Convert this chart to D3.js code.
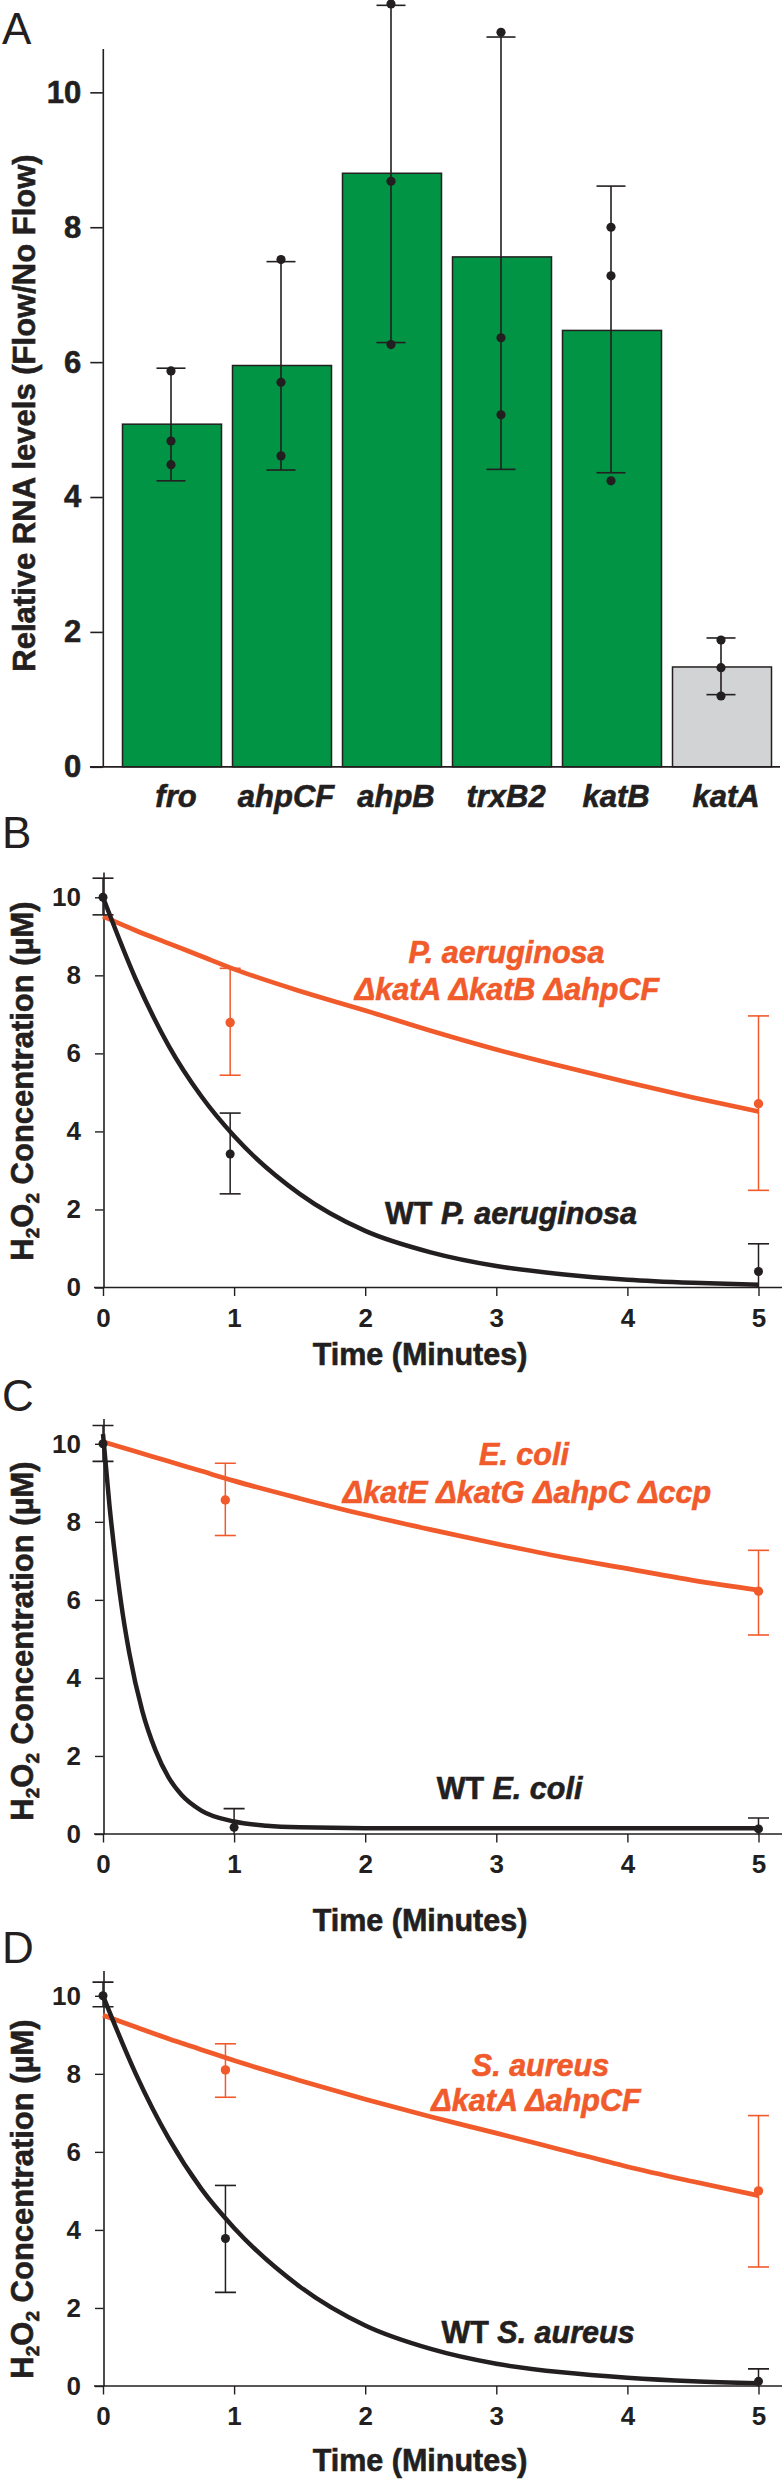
<!DOCTYPE html>
<html><head><meta charset="utf-8">
<script src="https://cdn.jsdelivr.net/npm/d3@7"></script>
<style>
body{margin:0;background:#fff}
svg text{font-family:"Liberation Sans",Arial,sans-serif;fill:#231f20}
svg text.heavy{stroke:#231f20;stroke-width:0.6px}
svg text.heavy.orange{fill:#f15a2b;stroke:#f15a2b}
</style>
</head><body>
<script>
// ---------------- Panel A data ----------------
const genes = ["fro","ahpCF","ahpB","trxB2","katB","katA"];
const rnaMean = [5.08,5.95,8.80,7.56,6.47,1.48];
const rnaLow  = [4.24,4.40,6.29,4.41,4.36,1.07];
const rnaHigh = [5.91,7.49,11.29,10.82,8.61,1.91];
const rnaReplicates = [[5.87,4.83,4.48],[7.52,5.70,4.61],[11.31,8.68,6.26],[10.89,6.36,5.22],[8.00,7.28,4.24],[1.88,1.47,1.05]];
const controlGene = "katA";
const rnaTicks = [0,2,4,6,8,10];
const rnaTitle = "Relative RNA levels (Flow/No Flow)";

// ---------------- Panels B–D shared ----------------
const timeTicks = [0,1,2,3,4,5];
const concTicks = [0,2,4,6,8,10];
const fitTime = [0,0.25,0.5,0.75,1,1.5,2,2.5,3,3.5,4,4.5,5];

// Panel B – P. aeruginosa
const bWtTime = [0,0.97,5], bWtMean = [10.0,3.42,0.41], bWtLow = [9.55,2.40,-0.30], bWtHigh = [10.49,4.47,1.12];
const bMutTime = [0.97,5], bMutMean = [6.79,4.71], bMutLow = [5.44,2.49], bMutHigh = [8.18,6.96];
const bWtFit  = [10.0,7.9,6.2,4.9,3.88,2.4,1.45,0.9,0.55,0.34,0.2,0.12,0.07];
const bMutFit = [9.51,9.15,8.82,8.49,8.16,7.6,7.1,6.58,6.1,5.67,5.26,4.87,4.51];
const bLabels = {mut1:"P. aeruginosa", mut2:"ΔkatA ΔkatB ΔahpCF", wt:"P. aeruginosa"};

// Panel C – E. coli
const cWtTime = [0,1.0,5], cWtMean = [10.0,0.17,0.13], cWtLow = [9.55,-0.31,-0.15], cWtHigh = [10.47,0.65,0.41];
const cMutTime = [0.933,5], cMutMean = [8.56,6.22], cMutLow = [7.65,5.10], cMutHigh = [9.50,7.27];
const cWtFitTime = [0,0.05,0.1,0.15,0.2,0.3,0.4,0.5,0.6,0.75,1,1.25,1.5,2,3,4,5];
const cWtFit  = [10.25,8.4,6.9,5.65,4.65,3.15,2.15,1.45,1.0,0.6,0.32,0.21,0.17,0.15,0.15,0.15,0.15];
const cMutFit = [10.05,9.8,9.55,9.3,9.05,8.6,8.18,7.8,7.44,7.1,6.8,6.5,6.25];
const cLabels = {mut1:"E. coli", mut2:"ΔkatE ΔkatG ΔahpC Δccp", wt:"E. coli"};

// Panel D – S. aureus
const dWtTime = [0,0.934,5], dWtMean = [10.0,3.78,0.12], dWtLow = [9.72,2.40,-0.2], dWtHigh = [10.35,5.14,0.44];
const dMutTime = [0.934,5], dMutMean = [8.10,5.0], dMutLow = [7.40,3.05], dMutHigh = [8.77,6.93];
const dWtFit  = [10.0,8.0,6.35,5.05,4.05,2.55,1.55,0.95,0.57,0.35,0.21,0.12,0.07];
const dMutFit = [9.5,9.2,8.9,8.62,8.34,7.83,7.35,6.9,6.48,6.05,5.62,5.24,4.88];
const dLabels = {mut1:"S. aureus", mut2:"ΔkatA ΔahpCF", wt:"S. aureus"};

const concTitle = "Concentration (µM)";
const timeTitle = "Time (Minutes)";

// ---------------- styles ----------------
const INK = "#231f20", GREEN = "#009444", GREY = "#d1d3d4", ORANGE = "#f15a2b";

const svg = d3.select("body").append("svg").attr("width",784).attr("height",2479);

function panelLetter(txt, y){
  svg.append("text").attr("x",2).attr("y",y).attr("font-size",44).text(txt);
}

// ================= Panel A =================
(function(){
  const g = svg.append("g");
  const y = d3.scaleLinear().domain([0,10.65]).range([766.8,48.5]);
  const x = d3.scaleBand().domain(genes).range([117,777]).paddingInner(0.1).paddingOuter(0.05);
  const axisX = 102.8;
  const rows = genes.map((gname,i)=>({g:gname,mean:rnaMean[i],lo:rnaLow[i],hi:rnaHigh[i],reps:rnaReplicates[i]}));

  g.selectAll("rect.bar").data(rows).join("rect")
    .attr("x",d=>x(d.g)).attr("width",x.bandwidth())
    .attr("y",d=>y(d.mean)).attr("height",d=>y(0)-y(d.mean))
    .attr("fill",d=>d.g===controlGene?GREY:GREEN)
    .attr("stroke",INK).attr("stroke-width",1.5);

  const ya = g.append("g").attr("transform",`translate(${axisX},0)`)
    .call(d3.axisLeft(y).tickValues(rnaTicks).tickSize(12.5).tickSizeOuter(0).tickPadding(9));
  ya.select(".domain").attr("stroke",INK).attr("stroke-width",1.6);
  ya.selectAll(".tick line").attr("stroke",INK).attr("stroke-width",1.6);
  ya.selectAll(".tick text").attr("class","heavy").attr("font-size",31).attr("font-weight","bold")
    .attr("font-family","Liberation Sans, Arial, sans-serif").attr("fill",INK);

  g.append("line").attr("x1",90).attr("x2",780).attr("y1",y(0)).attr("y2",y(0))
    .attr("stroke",INK).attr("stroke-width",1.8);

  const xa = g.append("g").attr("transform",`translate(4,${y(0)})`)
    .call(d3.axisBottom(x).tickSize(0).tickPadding(18));
  xa.select(".domain").remove();
  xa.selectAll(".tick text").attr("class","heavy").attr("font-size",31).attr("font-weight","bold").attr("font-style","italic")
    .attr("font-family","Liberation Sans, Arial, sans-serif").attr("fill",INK);

  const cx = d=>x(d.g)+x.bandwidth()/2-1;
  g.selectAll("line.eb").data(rows).join("line")
    .attr("x1",cx).attr("x2",cx).attr("y1",d=>y(d.lo)).attr("y2",d=>y(d.hi))
    .attr("stroke",INK).attr("stroke-width",1.6);
  ["lo","hi"].forEach(k=>{
    g.selectAll("line.cap"+k).data(rows).join("line")
      .attr("x1",d=>cx(d)-14.5).attr("x2",d=>cx(d)+14.5)
      .attr("y1",d=>y(d[k])).attr("y2",d=>y(d[k]))
      .attr("stroke",INK).attr("stroke-width",1.6);
  });
  const pts = rows.flatMap(d=>d.reps.map(v=>({g:d.g,v})));
  g.selectAll("circle.rep").data(pts).join("circle")
    .attr("cx",d=>x(d.g)+x.bandwidth()/2-1).attr("cy",d=>y(d.v)).attr("r",4.6).attr("fill",INK);

  g.append("text").attr("class","heavy").attr("transform","translate(35,413) rotate(-90)")
    .attr("text-anchor","middle").attr("font-size",31).attr("font-weight","bold").text(rnaTitle);

  panelLetter("A",44);
})();

// ================= Panels B–D =================
function timePanel(cfg){
  const g = svg.append("g");
  const y = d3.scaleLinear().domain([0,10.65]).range([cfg.y0, cfg.y0-10.65*39.02]);
  const x = d3.scaleLinear().domain([0,5]).range([103,758.5]);
  const id = "clip"+cfg.letter;
  svg.append("clipPath").attr("id",id).append("rect")
    .attr("x",60).attr("y",y(10.65)-60).attr("width",724).attr("height",y(0)-y(10.65)+60+0.5);

  const ya = g.append("g").attr("transform","translate(103.5,0)")
    .call(d3.axisLeft(y).tickValues(concTicks).tickFormat(d3.format("d")).tickSize(8.5).tickSizeOuter(0).tickPadding(14));
  ya.select(".domain").attr("stroke",INK).attr("stroke-width",1.6);
  ya.selectAll(".tick line").attr("stroke",INK).attr("stroke-width",1.4);
  ya.selectAll(".tick text").attr("font-size",26).attr("font-weight","bold")
    .attr("font-family","DejaVu Sans, sans-serif").attr("fill",INK);

  g.append("line").attr("x1",94).attr("x2",782).attr("y1",y(0)).attr("y2",y(0))
    .attr("stroke",INK).attr("stroke-width",1.6);
  const xa = g.append("g").attr("transform",`translate(0,${y(0)})`)
    .call(d3.axisBottom(x).tickValues(timeTicks).tickFormat(d3.format("d")).tickSize(8.5).tickPadding(12.5));
  xa.select(".domain").remove();
  xa.selectAll(".tick line").attr("stroke",INK).attr("stroke-width",1.4);
  xa.selectAll(".tick text").attr("font-size",26).attr("font-weight","bold")
    .attr("font-family","DejaVu Sans, sans-serif").attr("fill",INK);

  g.append("text").attr("class","heavy").attr("x",420).attr("y",y(0)+cfg.titleGap).attr("text-anchor","middle")
    .attr("font-size",30.5).attr("font-weight","bold").text(timeTitle);

  const yt = g.append("text").attr("class","heavy").attr("transform",`translate(33,${cfg.yTitleC}) rotate(-90)`)
    .attr("text-anchor","middle").attr("font-size",31).attr("font-weight","bold");
  yt.append("tspan").text("H");
  yt.append("tspan").attr("font-size",19).attr("dy",6).text("2");
  yt.append("tspan").attr("dy",-6).text("O");
  yt.append("tspan").attr("font-size",19).attr("dy",6).text("2");
  yt.append("tspan").attr("dy",-6).text(" "+concTitle);

  const plot = g.append("g").attr("clip-path",`url(#${id})`);
  const line = d3.line().x(d=>x(d[0])).y(d=>y(d[1])).curve(d3.curveMonotoneX);

  plot.append("path").datum(cfg.mutFitT.map((t,i)=>[t,cfg.mutFit[i]])).attr("d",line)
    .attr("fill","none").attr("stroke",ORANGE).attr("stroke-width",4.7);
  plot.append("path").datum(cfg.wtFitT.map((t,i)=>[t,cfg.wtFit[i]])).attr("d",line)
    .attr("fill","none").attr("stroke",INK).attr("stroke-width",4.5);

  function series(ts,m,lo,hi,col,r){
    const rows = ts.map((t,i)=>({t,m:m[i],lo:lo[i],hi:hi[i]}));
    plot.selectAll(null).data(rows).join("line")
      .attr("x1",d=>x(d.t)).attr("x2",d=>x(d.t)).attr("y1",d=>y(d.lo)).attr("y2",d=>y(d.hi))
      .attr("stroke",col).attr("stroke-width",1.5);
    ["lo","hi"].forEach(k=>{
      plot.selectAll(null).data(rows).join("line")
        .attr("x1",d=>x(d.t)-10.5).attr("x2",d=>x(d.t)+10.5)
        .attr("y1",d=>y(d[k])).attr("y2",d=>y(d[k]))
        .attr("stroke",col).attr("stroke-width",1.6);
    });
    plot.selectAll(null).data(rows).join("circle")
      .attr("cx",d=>x(d.t)).attr("cy",d=>y(d.m)).attr("r",r).attr("fill",col);
  }
  series(cfg.mutT,cfg.mutM,cfg.mutL,cfg.mutH,ORANGE,4.7);
  series(cfg.wtT,cfg.wtM,cfg.wtL,cfg.wtH,INK,4.5);

  g.append("text").attr("class","heavy orange").attr("x",cfg.l1[0]).attr("y",cfg.l1[1]).attr("text-anchor","middle")
    .attr("font-size",30.5).attr("font-weight","bold").attr("font-style","italic").text(cfg.labels.mut1);
  g.append("text").attr("class","heavy orange").attr("x",cfg.l2[0]).attr("y",cfg.l2[1]).attr("text-anchor","middle")
    .attr("font-size",30.5).attr("font-weight","bold").attr("font-style","italic").text(cfg.labels.mut2);
  const wt = g.append("text").attr("class","heavy").attr("x",cfg.l3[0]).attr("y",cfg.l3[1]).attr("text-anchor","middle")
    .attr("font-size",30.5).attr("font-weight","bold");
  wt.append("tspan").text("WT ");
  wt.append("tspan").attr("font-style","italic").text(cfg.labels.wt);

  panelLetter(cfg.letter, cfg.letterY);
}

timePanel({letter:"B",letterY:847.5,y0:1287.5,titleGap:77.5,yTitleC:1081,
  wtT:bWtTime,wtM:bWtMean,wtL:bWtLow,wtH:bWtHigh,mutT:bMutTime,mutM:bMutMean,mutL:bMutLow,mutH:bMutHigh,
  wtFitT:fitTime,wtFit:bWtFit,mutFitT:fitTime,mutFit:bMutFit,labels:bLabels,
  l1:[506.5,962.5],l2:[507,1000],l3:[511,1224]});

timePanel({letter:"C",letterY:1411,y0:1834,titleGap:97,yTitleC:1641,
  wtT:cWtTime,wtM:cWtMean,wtL:cWtLow,wtH:cWtHigh,mutT:cMutTime,mutM:cMutMean,mutL:cMutLow,mutH:cMutHigh,
  wtFitT:cWtFitTime,wtFit:cWtFit,mutFitT:fitTime,mutFit:cMutFit,labels:cLabels,
  l1:[524,1465],l2:[527,1502.5],l3:[509.5,1799]});

timePanel({letter:"D",letterY:1962.5,y0:2386,titleGap:85,yTitleC:2199,
  wtT:dWtTime,wtM:dWtMean,wtL:dWtLow,wtH:dWtHigh,mutT:dMutTime,mutM:dMutMean,mutL:dMutLow,mutH:dMutHigh,
  wtFitT:fitTime,wtFit:dWtFit,mutFitT:fitTime,mutFit:dMutFit,labels:dLabels,
  l1:[540.5,2076],l2:[536,2111],l3:[538,2342.5]});
</script>
</body></html>
